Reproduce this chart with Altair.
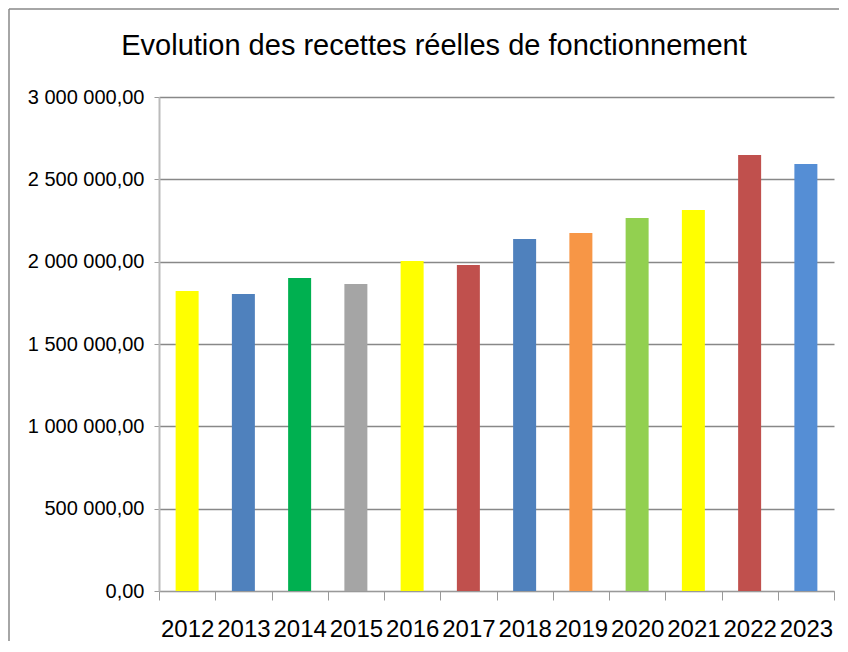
import altair as alt
import pandas as pd

title_text = ["Evolution des recettes réelles de fonctionnement"]
years = ["2012", "2013", "2014", "2015", "2016", "2017", "2018", "2019", "2020", "2021", "2022", "2023"]
values = [1822000, 1804000, 1901000, 1864000, 2004000, 1980000, 2138000, 2174000, 2265000, 2314000, 2648000, 2593000]
colors = ["#FFFF00", "#4F81BD", "#00B050", "#A5A5A5", "#FFFF00", "#C0504D",
          "#4F81BD", "#F79646", "#92D050", "#FFFF00", "#C0504D", "#558ED5"]

df = pd.DataFrame({"annee": years, "valeur": values, "couleur": colors})

label_expr = "replace(replace(format(datum.value, ',.2f'), regexp(',', 'g'), ' '), '.', ',')"

bars = alt.Chart(df).mark_bar(size=23).encode(
    x=alt.X("annee:N", sort=years, title=None,
            scale=alt.Scale(paddingInner=0, paddingOuter=0),
            axis=alt.Axis(labelAngle=0, labelFontSize=24, labelFont="Liberation Sans",
                          labelColor="#000", labelPadding=17, tickSize=9, tickColor="#999",
                          domainColor="#999", tickBand="extent", labelOverlap=False)),
    y=alt.Y("valeur:Q", title=None,
            scale=alt.Scale(domain=[0, 3000000]),
            axis=alt.Axis(values=[0, 500000, 1000000, 1500000, 2000000, 2500000, 3000000],
                          labelExpr=label_expr, labelFontSize=20, labelFont="Liberation Sans",
                          labelColor="#000", labelPadding=10, tickSize=5, tickColor="#999",
                          domainColor="#bbb", domainWidth=2, gridColor="#888", gridWidth=1.5)),
    color=alt.Color("couleur:N", scale=None),
)

frame_df = pd.DataFrame({"k": [0]})
left_line = alt.Chart(frame_df).mark_rule(color="#888", strokeWidth=1.5).encode(
    x=alt.value(-150), y=alt.value(-88), y2=alt.value(544))
top_line = alt.Chart(frame_df).mark_rule(color="#888", strokeWidth=1.5).encode(
    x=alt.value(-150), x2=alt.value(680), y=alt.value(-88))

title = alt.Chart(pd.DataFrame({"t": title_text})).mark_text(
    fontSize=29, font="Liberation Sans", color="#000", align="center", baseline="middle"
).encode(text="t:N", x=alt.value(275), y=alt.value(-51))

chart = alt.layer(bars, left_line, top_line, title).properties(
    width=675, height=494,
    padding=0,
).configure_view(stroke=None)

chart.save("out.html", embed_options={"renderer": "svg", "actions": False})
